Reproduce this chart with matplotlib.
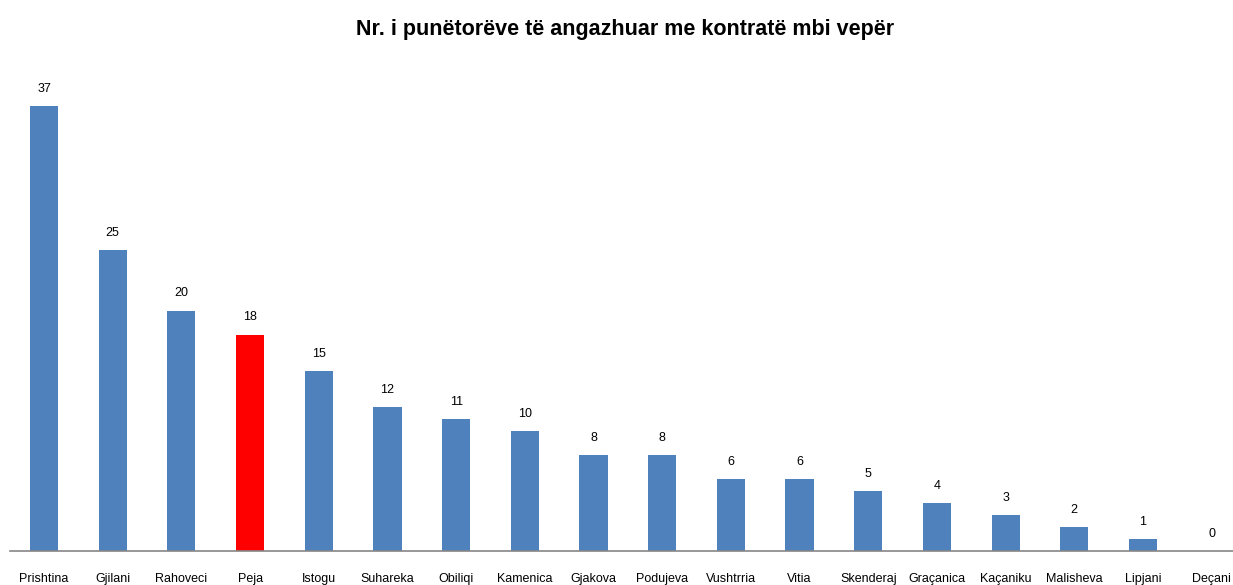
import matplotlib
matplotlib.use("Agg")
import matplotlib.pyplot as plt
from matplotlib import font_manager

categories = ["Prishtina", "Gjilani", "Rahoveci", "Peja", "Istogu", "Suhareka", "Obiliqi",
              "Kamenica", "Gjakova", "Podujeva", "Vushtrria", "Vitia", "Skenderaj",
              "Graçanica", "Kaçaniku", "Malisheva", "Lipjani", "Deçani"]
values = [37, 25, 20, 18, 15, 12, 11, 10, 8, 8, 6, 6, 5, 4, 3, 2, 1, 0]
highlight = "Peja"

names = {f.name for f in font_manager.fontManager.ttflist}
fam = ["Liberation Sans Narrow", "DejaVu Sans"] if "Liberation Sans Narrow" in names else ["Liberation Sans", "DejaVu Sans"]

W, H = 1233, 585
fig = plt.figure(figsize=(W / 100, H / 100), dpi=100)
left_px, right_px = 9.7, 1246.0
base_px, top_px = 551.0, 70.0
ax = fig.add_axes([left_px / W, (H - base_px) / H, (right_px - left_px) / W, (base_px - top_px) / H])

colors = ["#FF0000" if c == highlight else "#4F81BD" for c in categories]
x = list(range(len(categories)))
ax.bar(x, values, width=0.41, color=colors, zorder=2)
ax.set_xlim(-0.5, len(categories) - 0.5)
ax.set_ylim(0, 40)

for xi, v in zip(x, values):
    ax.annotate(str(v), (xi, v), xytext=(0, 8), textcoords="offset points",
                ha="center", va="bottom", fontsize=9, family=fam, color="#000000")

ax.set_xticks(x)
ax.set_xticklabels(categories, family=fam, fontsize=9)
ax.tick_params(axis="x", length=0, pad=16)
ax.set_yticks([])
for s in ["top", "right", "left"]:
    ax.spines[s].set_visible(False)
ax.spines["bottom"].set_color("#868686")
ax.spines["bottom"].set_linewidth(1.2)

fig.text(625 / W, 1 - 30 / H, "Nr. i punëtorëve të angazhuar me kontratë mbi vepër",
         ha="center", va="center", fontsize=15.5, fontweight="bold", family=fam)

fig.savefig("out.png", dpi=100)
